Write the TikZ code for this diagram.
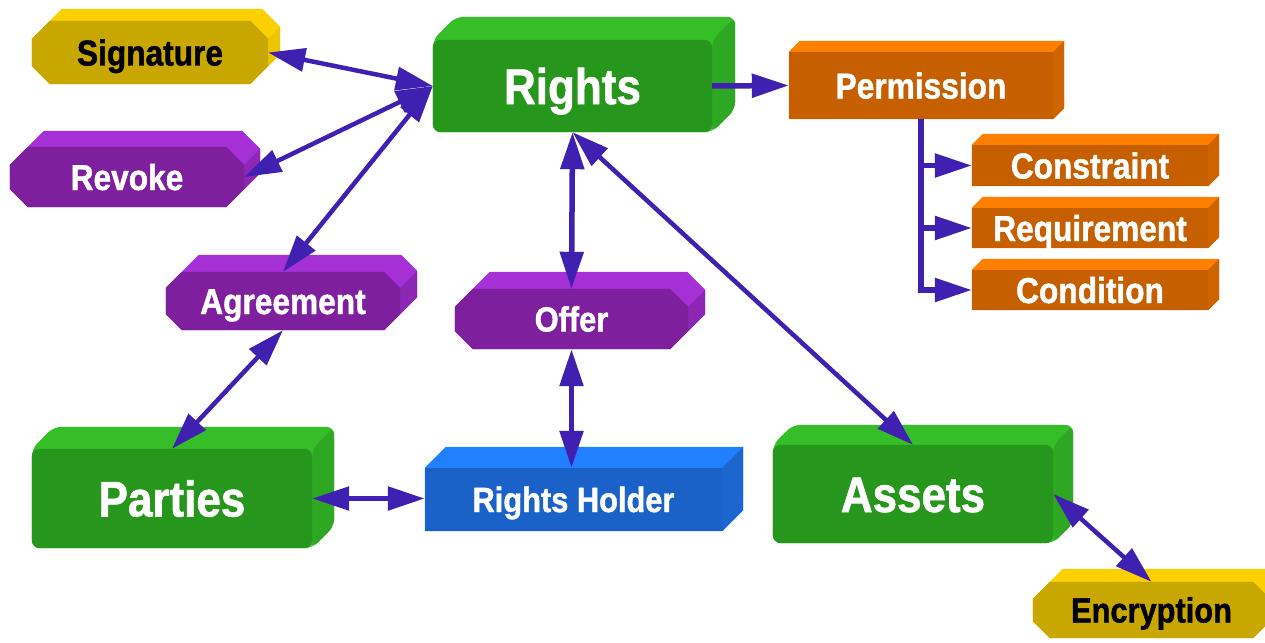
\documentclass[tikz,border=0pt]{standalone}
\usepackage{fontspec}
\newfontfamily\lblfont{Liberation Sans}[FakeStretch=0.88, BoldFeatures={FakeBold=1.2}]
\usetikzlibrary{arrows.meta,calc}
\pgfdeclarelayer{background}
\pgfsetlayers{background,main}
\definecolor{arrowc}{RGB}{64,32,176}
\definecolor{gfront}{RGB}{39,150,28}
\definecolor{gtop}{RGB}{54,190,40}
\definecolor{gside}{RGB}{46,168,34}
\definecolor{pfront}{RGB}{126,31,158}
\definecolor{ptop}{RGB}{165,48,213}
\definecolor{pside}{RGB}{140,38,180}
\definecolor{yfront}{RGB}{200,168,0}
\definecolor{ytop}{RGB}{250,208,0}
\definecolor{yside}{RGB}{236,196,0}
\definecolor{ofront}{RGB}{198,95,0}
\definecolor{otop}{RGB}{255,127,0}
\definecolor{oside}{RGB}{206,100,0}
\definecolor{bfront}{RGB}{26,98,200}
\definecolor{btop}{RGB}{32,128,255}
\definecolor{bside}{RGB}{28,102,208}
% rectangular extrusion: node, depth, top, side, front
\newcommand\xrect[5]{%
 \begin{pgfonlayer}{background}
  \fill[#3] (#1.south west) -- (#1.north west) -- ($(#1.north west)+(#2,-#2)$) -- ($(#1.north east)+(#2,-#2)$) -- ($(#1.south east)+(#2,-#2)$) -- (#1.south east) -- cycle;
  \fill[#4] (#1.north east) -- ($(#1.north east)+(#2,-#2)$) -- ($(#1.south east)+(#2,-#2)$) -- (#1.south east) -- cycle;
  \fill[#5] (#1.south west) rectangle (#1.north east);
 \end{pgfonlayer}}
% rounded extrusion
\newcommand\xround[5]{%
 \begin{pgfonlayer}{background}
  \fill[#3,rounded corners=8pt] (#1.south west) -- (#1.north west) -- ($(#1.north west)+(#2,-#2)$) -- ($(#1.north east)+(#2,-#2)$) -- ($(#1.south east)+(#2,-#2)$) -- (#1.south east) -- cycle;
  \fill[#4,rounded corners=8pt] (#1.north east) -- ($(#1.north east)+(#2,-#2)$) -- ($(#1.south east)+(#2,-#2)$) -- (#1.south east) -- cycle;
  \fill[#5,rounded corners=8pt] (#1.south west) rectangle (#1.north east);
 \end{pgfonlayer}}
% chamfered extrusion: node, depth, chamfer, top, side, front
\newcommand\xcham[6]{%
 \begin{pgfonlayer}{background}
  \fill[#4] ($(#1.south west)+(0,-#3)$) -- ($(#1.north west)+(0,#3)$) -- ($(#1.north west)+(#3+#2,-#2)$) -- ($(#1.north east)+(-#3+#2,-#2)$) -- ($(#1.north east)+(#2,#3-#2)$) -- ($(#1.south east)+(#2,-#3-#2)$) -- ($(#1.south east)+(-#3,0)$) -- ($(#1.south west)+(#3,0)$) -- cycle;
  \fill[#5] ($(#1.north east)+(0,#3)$) -- ($(#1.north east)+(#2,#3-#2)$) -- ($(#1.south east)+(#2,-#3-#2)$) -- ($(#1.south east)+(0,-#3)$) -- cycle;
  \fill[#6] ($(#1.south west)+(#3,0)$) -- ($(#1.south west)+(0,-#3)$) -- ($(#1.north west)+(0,#3)$) -- ($(#1.north west)+(#3,0)$) -- ($(#1.north east)+(-#3,0)$) -- ($(#1.north east)+(0,#3)$) -- ($(#1.south east)+(0,-#3)$) -- ($(#1.south east)+(-#3,0)$) -- cycle;
 \end{pgfonlayer}}
\tikzset{
 lbl/.style={inner sep=0pt, text=white, text depth=0pt},
 small/.style={lbl, font=\lblfont\bfseries\fontsize{36}{36}\selectfont, text height=26pt},
 smaller/.style={lbl, font=\lblfont\bfseries\fontsize{35}{35}\selectfont, text height=25pt},
 big/.style={lbl, font=\lblfont\bfseries\fontsize{50}{50}\selectfont, text height=36pt},
 conn/.style={draw=arrowc, line width=5.5pt},
 diag/.style={draw=arrowc, line width=4.5pt},
 >={Triangle[length=37pt,width=23pt]}
}
\begin{document}
\begin{tikzpicture}[x=1pt,y=-1pt]
\useasboundingbox (0,0) rectangle (1265,642);
\begin{pgfonlayer}{background}
 \fill[white] (0,0) rectangle (1265,642);
\end{pgfonlayer}
% nodes (front faces)
\node[small, text=black, minimum width=236pt, minimum height=63pt] (sig) at (150,52.5) {Signature};
\node[small, minimum width=234pt, minimum height=60pt] (revoke) at (127,177) {Revoke};
\node[small, minimum width=234pt, minimum height=58pt] (agree) at (283,301) {Agreement};
\node[smaller, minimum width=233pt, minimum height=60pt] (offer) at (571.5,319) {Offer};
\node[smaller, text=black, minimum width=237pt, minimum height=56pt] (enc) at (1151.5,610) {Encryption};
\node[big, minimum width=279pt, minimum height=92pt] (rights) at (572.5,86) {Rights};
\node[big, minimum width=280pt, minimum height=99pt] (parties) at (172,498.5) {Parties};
\node[big, minimum width=280pt, minimum height=98pt] (assets) at (913,494) {Assets};
\node[small, minimum width=264pt, minimum height=67pt] (perm) at (921,85.5) {Permission};
\node[small, minimum width=236pt, minimum height=41pt] (cons) at (1090,165.5) {Constraint};
\node[small, minimum width=236pt, minimum height=40pt] (req) at (1090,228) {Requirement};
\node[small, minimum width=236pt, minimum height=40pt] (cond) at (1090,290) {Condition};
\node[smaller, minimum width=297pt, minimum height=63pt] (holder) at (573.5,499.5) {Rights Holder};
% 3D bodies
\xcham{sig}{12}{18}{ytop}{yside}{yfront}
\xcham{revoke}{16}{18}{ptop}{pside}{pfront}
\xcham{agree}{17}{16}{ptop}{pside}{pfront}
\xcham{offer}{17}{18}{ptop}{pside}{pfront}
\xcham{enc}{13}{17}{ytop}{yside}{yfront}
\xround{rights}{23}{gtop}{gside}{gfront}
\xround{parties}{22}{gtop}{gside}{gfront}
\xround{assets}{20}{gtop}{gside}{gfront}
\xrect{perm}{11}{otop}{oside}{ofront}
\xrect{cons}{11}{otop}{oside}{ofront}
\xrect{req}{11}{otop}{oside}{ofront}
\xrect{cond}{11}{otop}{oside}{ofront}
\xrect{holder}{21}{btop}{bside}{bfront}
% connectors
\draw[diag,<->] (sig.east) -- (rights.west);
\draw[diag,<->] (revoke.east) -- (rights.west);
\draw[diag,<->] (agree.north) -- (rights.west);
\draw[diag,<->] (agree.south) -- (parties.north);
\draw[conn,<->] (rights.south) -- (offer.north);
\draw[conn,<->] (offer.south) -- (offer.south |- holder.north);
\draw[conn,<->] (parties.east) -- (parties.east -| holder.west);
\draw[diag,<->] (rights.south) -- (assets.north);
\draw[diag,<->] (assets.east) -- (enc.north);
\draw[conn,->] (rights.east) -- (perm.west);
\draw[conn,->] (perm.south) |- (cond.west);
\draw[conn,->] (perm.south |- cons.west) -- (cons.west);
\draw[conn,->] (perm.south |- req.west) -- (req.west);
\end{tikzpicture}
\end{document}
